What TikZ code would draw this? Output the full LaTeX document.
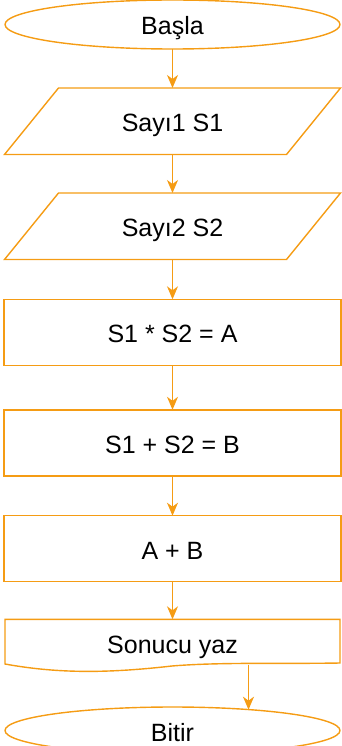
\documentclass[tikz,border=0pt]{standalone}
\usepackage{fontspec}
\setmainfont{Liberation Sans}
\usetikzlibrary{arrows.meta,shapes.geometric}
\definecolor{flow}{RGB}{245,156,20}
\begin{document}
\begin{tikzpicture}[x=1pt,y=-1pt,
  line/.style={draw=flow,line width=1.4pt},
  lbl/.style={font=\fontsize{25}{30}\selectfont, text height=21pt, text depth=0pt, inner sep=0pt, outer sep=0pt},
  term/.style={lbl, ellipse, line, minimum width=335pt, minimum height=49pt},
  box/.style={lbl, line, minimum width=337pt, minimum height=66pt},
  io/.style={lbl, minimum width=282pt, minimum height=66.5pt},
  arr/.style={line, -{Stealth[length=13pt,width=11pt,inset=4pt]}}]
\useasboundingbox (0,0) rectangle (341,746);
% nodes
\node[term] (start) at (172.5,24.5) {Başla};
\node[io] (in1) at (172.5,121.25) {Sayı1 S1};
\draw[line] ([xshift=27pt]in1.north west) -- ([xshift=27pt]in1.north east)
  -- ([xshift=-27pt]in1.south east) -- ([xshift=-27pt]in1.south west) -- cycle;
\node[io] (in2) at (172.5,226.25) {Sayı2 S2};
\draw[line] ([xshift=27pt]in2.north west) -- ([xshift=27pt]in2.north east)
  -- ([xshift=-27pt]in2.south east) -- ([xshift=-27pt]in2.south west) -- cycle;
\node[box] (r1) at (172.5,332.3) {S1 * S2 = A};
\node[box] (r2) at (172.5,442.8) {S1 + S2 = B};
\node[box] (r3) at (172.5,548.7) {A + B};
\node[lbl, minimum width=335pt, minimum height=45pt] (doc) at (172.5,643) {Sonucu yaz};
\draw[line] (5,619.3) -- (340,619.3) -- (340,663)
  .. controls (280,664) and (220,662) .. (172,666)
  .. controls (110,673) and (60,674) .. (5,664) -- cycle;
\coordinate (docout) at (248.5,664.5);
\node[term, minimum height=47pt] (end) at (172.5,730.5) {Bitir};
% connectors
\draw[arr] (start.south) -- (in1.north);
\draw[arr] (in1.south) -- (in2.north);
\draw[arr] (in2.south) -- (r1.north);
\draw[arr] (r1.south) -- (r2.north);
\draw[arr] (r2.south) -- (r3.north);
\draw[arr] (r3.south) -- (r3.south |- {(0,619.3)});
\draw[arr] (docout) -- (docout |- end.15.9);
\end{tikzpicture}
\end{document}
